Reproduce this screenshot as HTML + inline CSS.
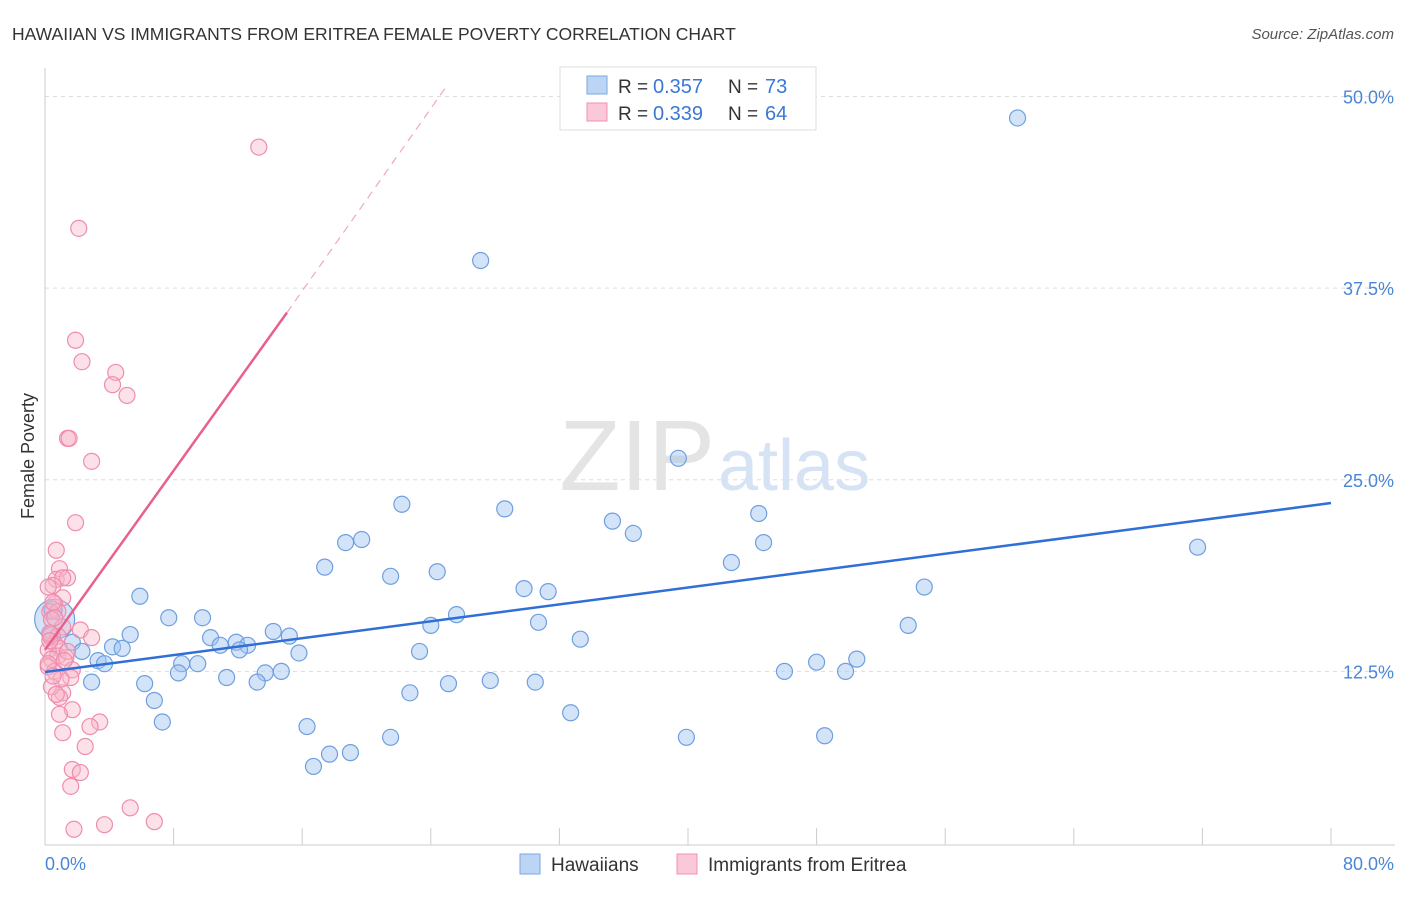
<!DOCTYPE html>
<html><head><meta charset="utf-8"><style>
body{margin:0;background:#fff;font-family:"Liberation Sans",sans-serif;}
svg text{font-family:"Liberation Sans",sans-serif;}
</style></head><body>
<svg width="1406" height="892" id="chart">
<text x="12" y="40" font-size="17.5" fill="#333">HAWAIIAN VS IMMIGRANTS FROM ERITREA FEMALE POVERTY CORRELATION CHART</text>
<text x="1394" y="39" font-size="15" fill="#555" text-anchor="end" font-style="italic">Source: ZipAtlas.com</text>
<text x="34" y="456" font-size="18" fill="#333" text-anchor="middle" transform="rotate(-90 34 456)">Female Poverty</text>
<g id="grid"></g>
<line x1="45" y1="68" x2="45" y2="845" stroke="#ccc"/>
<line x1="45" y1="845" x2="1395" y2="845" stroke="#ccc"/>
<text x="715" y="490" font-size="100" fill="#e4e4e4" text-anchor="end" font-family="Liberation Serif">ZIP</text>
<text x="718" y="490" font-size="72" fill="#d5e3f5">atlas</text>
<g id="pts"></g>
<g id="lines"></g>
<text x="45" y="870" font-size="18" fill="#4a86d8">0.0%</text>
<text x="1394" y="870" font-size="18" fill="#4a86d8" text-anchor="end">80.0%</text>
<g>
<rect x="560" y="67" width="256" height="63" fill="#fff" stroke="#ddd"/>
<rect x="587" y="76" width="20" height="18" fill="#bcd5f5" stroke="#7aa7e0"/>
<rect x="587" y="103" width="20" height="18" fill="#fbc8d8" stroke="#f090b0"/>
<text x="618" y="93" font-size="19" fill="#333">R =</text>
<text x="653" y="93" font-size="20" fill="#3b78d6">0.357</text>
<text x="728" y="93" font-size="19" fill="#333">N =</text>
<text x="765" y="93" font-size="20" fill="#3b78d6">73</text>
<text x="618" y="120" font-size="19" fill="#333">R =</text>
<text x="653" y="120" font-size="20" fill="#3b78d6">0.339</text>
<text x="728" y="120" font-size="19" fill="#333">N =</text>
<text x="765" y="120" font-size="20" fill="#3b78d6">64</text>
</g>
<g>
<rect x="520" y="854" width="20" height="20" fill="#bcd5f5" stroke="#7aa7e0"/>
<text x="551" y="871" font-size="19" fill="#333">Hawaiians</text>
<rect x="677" y="854" width="20" height="20" fill="#fbc8d8" stroke="#f090b0"/>
<text x="708" y="871" font-size="19" fill="#333">Immigrants from Eritrea</text>
</g>
</svg>
<script>
const yTicks=[12.5,25,37.5,50];
const xTicks=[0,8,16,24,32,40,48,56,64,72,80];
const blueX=[60.5,27.1,39.4,22.2,28.6,44.4,35.3,36.6,71.7,19.7,18.7,44.7,42.7,17.4,21.5,24.4,29.8,31.3,54.7,5.9,7.7,9.8,25.6,24.0,30.7,53.7,33.3,14.2,15.2,5.3,10.3,11.9,10.9,12.6,12.1,4.2,4.8,1.7,2.3,3.3,3.7,15.8,23.3,8.5,9.5,8.3,50.5,48.0,49.8,46.0,13.7,14.7,11.3,13.2,6.2,2.9,25.1,27.7,30.5,22.7,6.8,32.7,7.3,16.3,21.5,39.9,48.5,19.0,17.7,16.7,0.6,0.5,0.4];
const blueY=[48.6,39.3,26.4,23.4,23.1,22.8,22.3,21.5,20.6,21.1,20.9,20.9,19.6,19.3,18.7,19.0,17.9,17.7,18.0,17.4,16.0,16.0,16.2,15.5,15.7,15.5,14.6,15.1,14.8,14.9,14.7,14.4,14.2,14.2,13.9,14.1,14.0,14.4,13.8,13.2,13.0,13.7,13.8,13.0,13.0,12.4,13.3,13.1,12.5,12.5,12.4,12.5,12.1,11.8,11.7,11.8,11.7,11.9,11.8,11.1,10.6,9.8,9.2,8.9,8.2,8.2,8.3,7.2,7.1,6.3,15.9,16.5,14.8];
const pinkX=[13.3,2.1,1.9,2.3,4.4,4.2,5.1,1.4,1.5,2.9,1.9,0.7,0.9,0.7,1.4,1.1,0.5,1.1,0.6,0.3,0.8,0.4,1.1,0.3,0.8,0.6,0.9,0.2,0.8,0.4,1.3,0.2,0.6,2.2,2.9,1.4,1.7,1.6,1.1,0.9,1.7,0.9,3.4,2.8,1.1,2.5,1.7,2.2,1.6,5.3,3.7,6.8,1.8,0.5,0.3,0.2,1.0,0.4,0.6,0.3,0.5,0.2,1.2,0.7];
const pinkY=[46.7,41.4,34.1,32.7,32.0,31.2,30.5,27.7,27.7,26.2,22.2,20.4,19.2,18.5,18.6,18.6,18.1,17.3,16.9,16.4,16.4,15.9,15.4,14.9,14.8,14.3,14.0,13.9,13.5,13.3,13.4,12.8,12.5,15.2,14.7,13.8,12.6,12.1,11.1,10.8,10.0,9.7,9.2,8.9,8.5,7.6,6.1,5.9,5.0,3.6,2.5,2.7,2.2,17.0,15.0,13.0,12.0,11.5,16.0,14.5,12.2,18.0,13.2,11.0];
const blueLine=[[0,12.46],[80,23.48]];
const pinkLine=[[0,13.9],[15.05,35.9]];
const pinkDash=[[15.05,35.9],[25,50.7]];
const sx=v=>45+v*16.075, sy=v=>863-v*15.33;
const NS='http://www.w3.org/2000/svg';
const grid=document.getElementById('grid'),pts=document.getElementById('pts'),lines=document.getElementById('lines');
function mk(t,a,p){const e=document.createElementNS(NS,t);for(const k in a)e.setAttribute(k,a[k]);p.appendChild(e);return e;}
yTicks.forEach(v=>{
 const l=mk('line',{x1:45,x2:1395,y1:sy(v),y2:sy(v),stroke:'#ddd','stroke-dasharray':'4 4'},grid);
 
 
 const t=mk('text',{x:1394,y:sy(v)+7,'font-size':18,fill:'#4a86d8','text-anchor':'end'},grid);t.textContent=v.toFixed(1)+'%';
 
 
});
xTicks.forEach(v=>{
 const l=mk('line',{x1:sx(v),x2:sx(v),y1:828,y2:845,stroke:'#ccc'},grid);
 
 
});
blueX.forEach((x,i)=>{
 const r=(i>=70)?(i==70?20:9):8;
 const c=mk('circle',{cx:sx(x),cy:sy(blueY[i]),r:r,fill:'rgba(160,196,240,0.45)',stroke:'#6f9fe0','stroke-width':1.2},pts);
 
 
});
pinkX.forEach((x,i)=>{
 const c=mk('circle',{cx:sx(x),cy:sy(pinkY[i]),r:8,fill:'rgba(248,180,200,0.4)',stroke:'#f08cae','stroke-width':1.2},pts);
 
 
});
const bl=mk('line',{x1:sx(blueLine[0][0]),y1:sy(blueLine[0][1]),x2:sx(blueLine[1][0]),y2:sy(blueLine[1][1]),stroke:'#2f6fd6','stroke-width':2.5},lines);


const pl=mk('line',{x1:sx(pinkLine[0][0]),y1:sy(pinkLine[0][1]),x2:sx(pinkLine[1][0]),y2:sy(pinkLine[1][1]),stroke:'#e8608e','stroke-width':2.5},lines);


const pd=mk('line',{x1:sx(pinkDash[0][0]),y1:sy(pinkDash[0][1]),x2:sx(pinkDash[1][0]),y2:sy(pinkDash[1][1]),stroke:'#f0a8c0','stroke-width':1.2,'stroke-dasharray':'8 6'},lines);


</script>
</body></html>
